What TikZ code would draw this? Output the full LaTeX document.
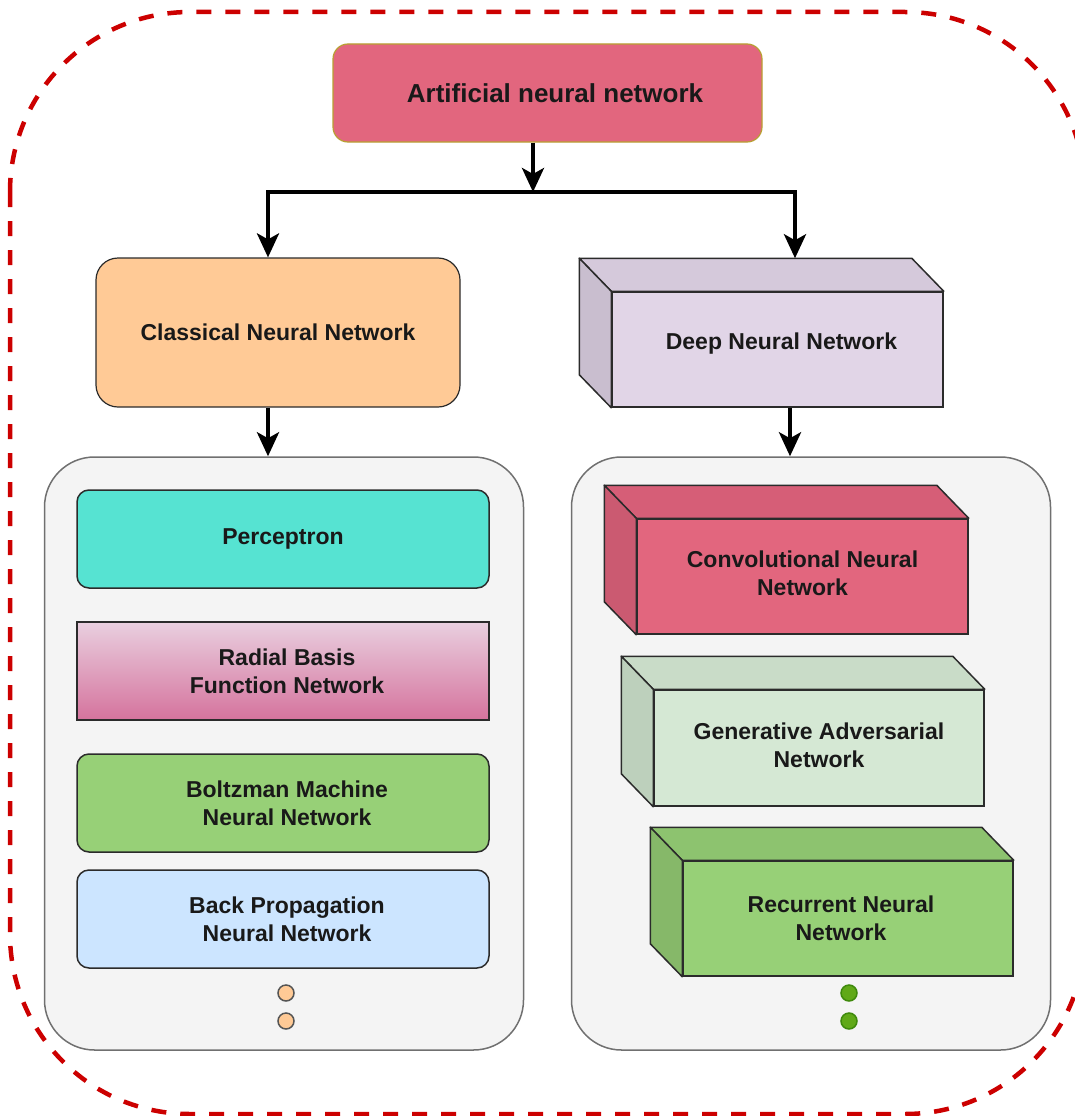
\documentclass[tikz,border=0pt]{standalone}
\usepackage{fontspec}
\setmainfont{Liberation Sans}
\usetikzlibrary{arrows.meta,positioning,calc}

\definecolor{framered}{HTML}{CC0000}
\definecolor{boxline}{HTML}{2B2B2B}
\definecolor{annfill}{HTML}{E2667E}
\definecolor{annline}{HTML}{B8A032}
\definecolor{cnnfill}{HTML}{FFCA96}
\definecolor{panelfill}{HTML}{F4F4F4}
\definecolor{panelline}{HTML}{707070}
\definecolor{percfill}{HTML}{56E3D2}
\definecolor{rbftop}{HTML}{E9CFDF}
\definecolor{rbfbot}{HTML}{D5739D}
\definecolor{greenfill}{HTML}{97D077}
\definecolor{bpfill}{HTML}{CCE5FF}
\definecolor{dnnfront}{HTML}{E1D5E7}
\definecolor{dnntop}{HTML}{D5C9DB}
\definecolor{dnnleft}{HTML}{C9BECF}
\definecolor{convfront}{HTML}{E2667E}
\definecolor{convtop}{HTML}{D65E77}
\definecolor{convleft}{HTML}{CB5A71}
\definecolor{ganfront}{HTML}{D5E8D4}
\definecolor{gantop}{HTML}{C9DCC8}
\definecolor{ganleft}{HTML}{BDD0BC}
\definecolor{rnntop}{HTML}{8DC36F}
\definecolor{rnnleft}{HTML}{86B869}
\definecolor{dotgreen}{HTML}{60A917}
\definecolor{dotgreenline}{HTML}{3F8A0C}

% top and left faces behind a cube front node
\newcommand\cubesides[3]{%
  \filldraw[fill=#2, facepath] (#1.north west) -- ++(-32,-33) -- ($(#1.north east)+(-32,-33)$) -- (#1.north east) -- cycle;
  \filldraw[fill=#3, facepath] (#1.north west) -- ++(-32,-33) -- ($(#1.south west)+(-32,-33)$) -- (#1.south west) -- cycle;}

\begin{document}
\begin{tikzpicture}[x=1pt,y=-1pt,
  lbl/.style={font=\fontsize{23}{28}\selectfont\bfseries, align=center, text=black!90},
  facepath/.style={draw=boxline, line width=1.5pt, line join=round},
  leafbox/.style={lbl, draw=boxline, line width=1.5pt, minimum width=412pt, minimum height=98pt, inner sep=0pt},
  roundleaf/.style={leafbox, rounded corners=12pt},
  cubefront/.style={lbl, draw=boxline, line width=1.5pt, minimum width=331pt, minimum height=115pt, inner sep=0pt},
  panel/.style={draw=panelline, fill=panelfill, line width=1.5pt, rounded corners=50pt, minimum width=479pt, minimum height=593pt},
  leafdot/.style={circle, minimum size=16pt, inner sep=0pt, line width=1.5pt},
  flow/.style={line width=4pt, line join=miter, -{Stealth[length=24pt,width=22pt,inset=6pt]}},
]
\path[use as bounding box, clip] (0,0) rectangle (1075,1116);
\draw[framered, line width=4.5pt, dash pattern=on 15pt off 14pt, rounded corners=180pt] (10,12) rectangle (1085,1114);

\node[lbl, font=\fontsize{26}{31}\selectfont\bfseries, fill=annfill, draw=annline, line width=1.2pt, rounded corners=15pt,
  minimum width=429pt, minimum height=98pt, inner sep=0pt] (ann) at (547.5,93) {\hspace{15pt}Artificial neural network};

\node[lbl, fill=cnnfill, draw=boxline, line width=1.2pt, rounded corners=22pt, minimum width=364pt, minimum height=149pt, inner sep=0pt]
  (classic) at (278,332.5) {Classical Neural Network};

\node[cubefront, fill=dnnfront] (dnn) at (777.5,349.5) {\hspace{8pt}\raisebox{16pt}{Deep Neural Network}};
\cubesides{dnn}{dnntop}{dnnleft}

\coordinate (jm) at (533,192);
\coordinate (jl) at (268,192);
\coordinate (jr) at (795,192);
\draw[flow] (ann.south -| jm) -- (jm);
\draw[flow] (jr) -- (jl) -- (jl |- classic.north);
\draw[flow] (jl) -- (jr) -- ($(jr |- dnn.north)+(0,-33)$);

\node[panel] (lpanel) at (284,753.5) {};
\node[panel] (rpanel) at (811,753.5) {};

\draw[flow] (classic.south -| jl) -- (lpanel.north -| jl);
\draw[flow] ($(dnn.south)+(12.5,0)$) -- ($(dnn.south |- rpanel.north)+(12.5,0)$);

\node[roundleaf, fill=percfill] (perc) at (283,539) {\raisebox{-3pt}{Perceptron}};
\node[leafbox, top color=rbftop, bottom color=rbfbot] (rbf) at (283,671) {\hspace{8pt}Radial Basis\\\hspace{8pt}Function Network};
\node[roundleaf, fill=greenfill] (boltz) at (283,803) {\hspace{8pt}Boltzman Machine\\\hspace{8pt}Neural Network};
\node[roundleaf, fill=bpfill] (bprop) at (283,919) {\hspace{8pt}Back Propagation\\\hspace{8pt}Neural Network};
\node[leafdot, fill=cnnfill, draw=boxline!80] (ldot1) at (286,993) {};
\node[leafdot, fill=cnnfill, draw=boxline!80] (ldot2) at (286,1021) {};

\node[cubefront, fill=convfront] (conv) at (802.5,576.5) {\raisebox{7pt}{Convolutional Neural}\\\raisebox{7pt}{Network}};
\cubesides{conv}{convtop}{convleft}
\node[cubefront, fill=ganfront, minimum width=330pt, minimum height=116pt] (gan) at (819,748) {\raisebox{6pt}{Generative Adversarial}\\\raisebox{6pt}{Network}};
\cubesides{gan}{gantop}{ganleft}
\node[cubefront, fill=greenfill, minimum width=330pt] (rnn) at (848,918.5) {\hspace{-14pt}Recurrent Neural\\\hspace{-14pt}Network};
\cubesides{rnn}{rnntop}{rnnleft}
\node[leafdot, fill=dotgreen, draw=dotgreenline] (rdot1) at (849,993) {};
\node[leafdot, fill=dotgreen, draw=dotgreenline] (rdot2) at (849,1021) {};
\end{tikzpicture}
\end{document}
